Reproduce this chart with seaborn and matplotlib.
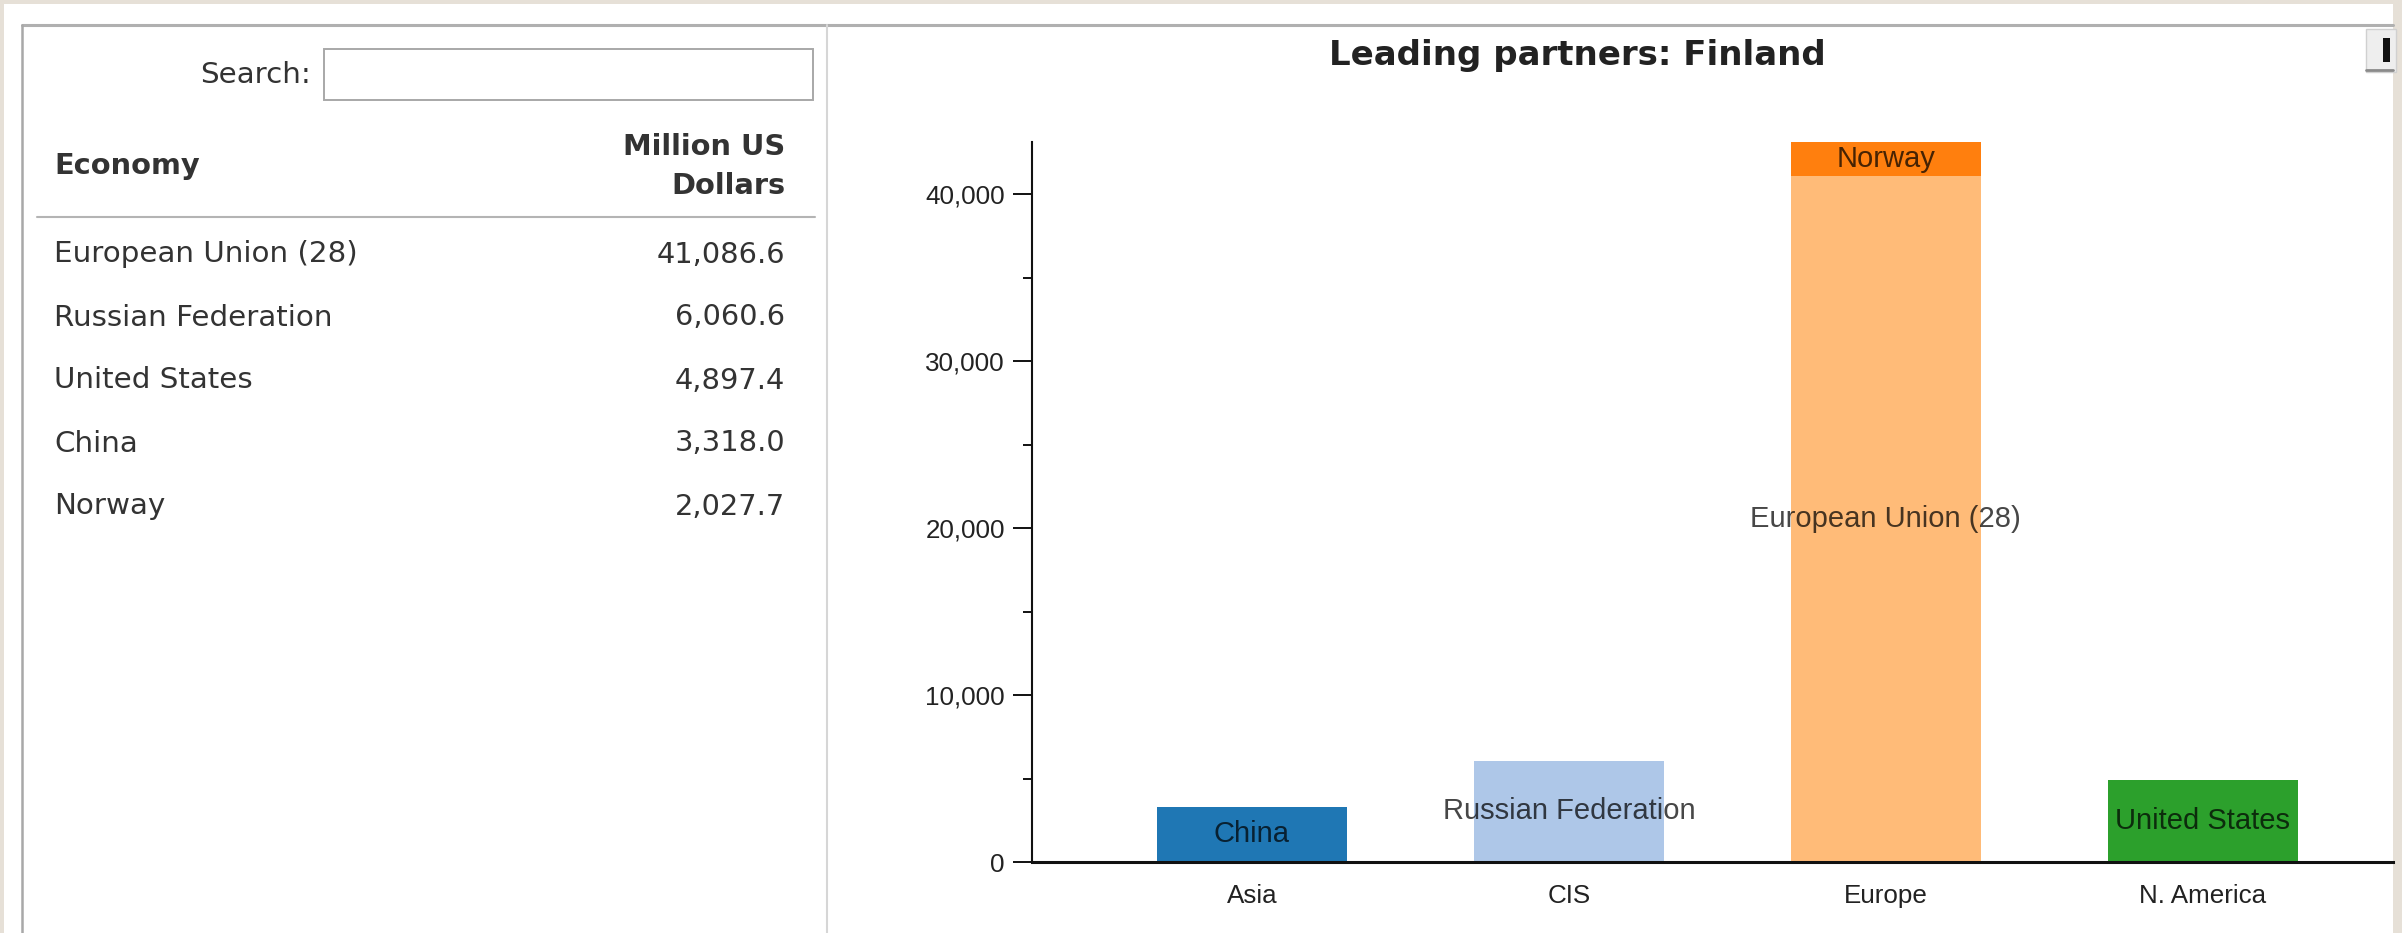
import matplotlib
matplotlib.use("Agg")
import matplotlib.pyplot as plt
from matplotlib.patches import Rectangle
from matplotlib.lines import Line2D
from matplotlib.transforms import Affine2D
import seaborn as sns
import pandas as pd

# Leading trade partners of Finland, million US dollars
economies = ["European Union (28)", "Russian Federation", "United States", "China", "Norway"]
values = [41086.6, 6060.6, 4897.4, 3318.0, 2027.7]
value_labels = ["41,086.6", "6,060.6", "4,897.4", "3,318.0", "2,027.7"]
regions = ["Europe", "CIS", "N. America", "Asia", "Europe"]
region_order = ["Asia", "CIS", "Europe", "N. America"]
economy_colors = {
    "China": "#1f77b4",
    "Russian Federation": "#aec7e8",
    "Norway": "#ff7f0e",
    "European Union (28)": "#ffbb78",
    "United States": "#2ca02c",
}
y_major = [0, 10000, 20000, 30000, 40000]
y_major_labels = ["0", "10,000", "20,000", "30,000", "40,000"]
y_minor = [5000, 15000, 25000, 35000]

title = "Leading partners: Finland"
search_label = "Search:"
col_economy = "Economy"
col_value = ["Million US", "Dollars"]

sns.set_theme(style="white")
plt.rcParams["font.family"] = ["DejaVu Sans"]

W, H = 2402, 933
fig = plt.figure(figsize=(W / 100, H / 100), dpi=100, facecolor="#e6e0d7")
# pixel coordinates, origin at the top-left corner
px = Affine2D().scale(1 / W, -1 / H).translate(0, 1) + fig.transFigure

# page panel
fig.add_artist(Rectangle((4, 4), 2389, 940, transform=px, facecolor="white",
                         edgecolor="none", zorder=-10))
fig.add_artist(Line2D([22, 2393], [25, 25], transform=px, color="#b0b0b0", lw=2.2))
fig.add_artist(Line2D([22, 22], [25, 940], transform=px, color="#a8a8a8", lw=1.8))
fig.add_artist(Line2D([827, 827], [25, 940], transform=px, color="#d6d6d6", lw=1.5))

# small toolbar button at the top right
fig.add_artist(Rectangle((2366, 29), 30, 43, transform=px, facecolor="#eeeeee",
                         edgecolor="#d0d0d0", lw=1))
fig.add_artist(Line2D([2366, 2393], [70, 70], transform=px, color="#8a8a8a", lw=2))
fig.add_artist(Rectangle((2383, 38), 7, 24, transform=px, facecolor="#111111",
                         edgecolor="none"))

# table
txt_color = "#333333"
fs_table = 21.2
fig.text(311, 83, search_label, transform=px, ha="right", va="baseline",
         fontsize=fs_table, color=txt_color)
fig.add_artist(Rectangle((324, 49), 489, 51, transform=px, facecolor="white",
                         edgecolor="#a8a8a8", lw=1.4))
fig.text(54, 174, col_economy, transform=px, ha="left", va="baseline",
         fontsize=20.8, fontweight="bold", color=txt_color)
fig.text(785, 155, col_value[0], transform=px, ha="right", va="baseline",
         fontsize=20.8, fontweight="bold", color=txt_color)
fig.text(785, 194, col_value[1], transform=px, ha="right", va="baseline",
         fontsize=20.8, fontweight="bold", color=txt_color)
fig.add_artist(Line2D([37, 815], [217, 217], transform=px, color="#b4b4b4", lw=1.5))
for i, (name, lab) in enumerate(zip(economies, value_labels)):
    yb = 262.5 + i * 63
    fig.text(54, yb, name, transform=px, ha="left", va="baseline",
             fontsize=fs_table, color=txt_color)
    fig.text(785, yb, lab, transform=px, ha="right", va="baseline",
             fontsize=20.8, color=txt_color)

# chart title
fig.text(1577, 65, title, transform=px, ha="center", va="baseline",
         fontsize=24.5, fontweight="bold", color="#222222")

# stacked bars
df = pd.DataFrame({"economy": economies, "region": regions, "value": values})
df["bottom"] = df.groupby("region")["value"].cumsum() - df["value"]
df["top"] = df["bottom"] + df["value"]
df["level"] = df.groupby("region").cumcount()

ax_left, ax_right, ax_top, ax_bottom = 1032, 2393, 142, 862
ax = fig.add_axes([ax_left / W, (H - ax_bottom) / H,
                   (ax_right - ax_left) / W, (ax_bottom - ax_top) / H])
ax.set_facecolor("white")

# draw upper stack levels first so lower segments paint over them
for lvl in sorted(df["level"].unique(), reverse=True):
    sub = df[df["level"] == lvl]
    sns.barplot(data=sub, x="region", y="top", hue="economy", palette=economy_colors,
                order=region_order, width=0.6, saturation=1, dodge=False,
                legend=False, ax=ax, linewidth=0)

chart_font = ["Liberation Sans", "DejaVu Sans"]
for _, row in df.iterrows():
    xpos = region_order.index(row["region"])
    ax.text(xpos, row["bottom"] + row["value"] / 2, row["economy"], ha="center",
            va="center", fontsize=21, family=chart_font, color="black", alpha=0.72)

ax.set_xlim(-0.694, 3.6)
ax.set_ylim(0, df["top"].max())
ax.set_xlabel("")
ax.set_ylabel("")

ax.set_yticks(y_major)
ax.set_yticklabels(y_major_labels)
ax.set_yticks(y_minor, minor=True)
ax.tick_params(axis="y", which="major", left=True, length=13.7, width=1.4,
               pad=5.8, labelsize=18.7, colors="#111111", labelcolor="#222222")
ax.tick_params(axis="y", which="minor", left=True, length=6.5, width=1.4,
               colors="#111111")
ax.tick_params(axis="x", length=0, pad=16, labelsize=18.7, labelcolor="#222222")
for lab in ax.get_xticklabels() + ax.get_yticklabels():
    lab.set_family(chart_font)

for side in ["top", "right"]:
    ax.spines[side].set_visible(False)
ax.spines["left"].set_linewidth(1.5)
ax.spines["left"].set_color("#111111")
ax.spines["bottom"].set_linewidth(2.2)
ax.spines["bottom"].set_color("#111111")

fig.savefig("out.png", dpi=100, facecolor=fig.get_facecolor())
